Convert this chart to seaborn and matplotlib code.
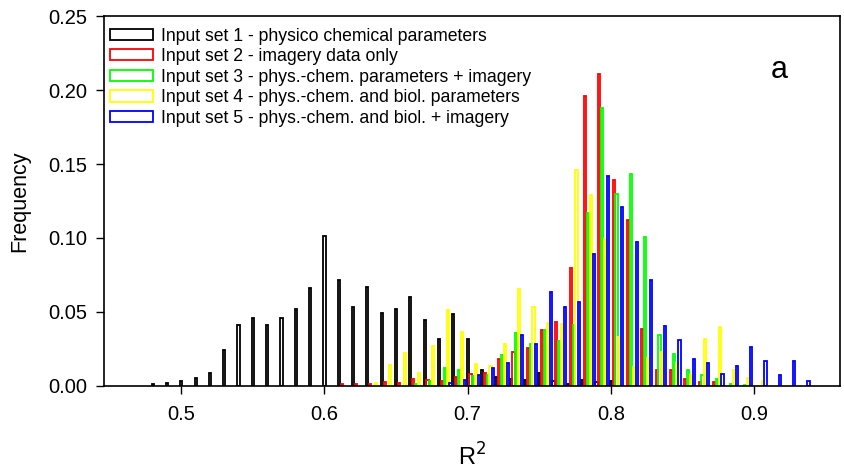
import matplotlib
matplotlib.use("Agg")
import matplotlib.pyplot as plt
import numpy as np
import pandas as pd
import seaborn as sns

# R2 bin values (left slot of each group) and frequencies per input set
bins_set1 = [0.48, 0.49, 0.50, 0.51, 0.52, 0.53, 0.54, 0.55, 0.56, 0.57, 0.58,
             0.59, 0.60, 0.61, 0.62, 0.63, 0.64, 0.65, 0.66, 0.67, 0.68, 0.69,
             0.70, 0.71, 0.72, 0.73, 0.74, 0.75, 0.76, 0.77, 0.78, 0.79, 0.80]
freq_set1 = [0.001, 0.002, 0.0035, 0.005, 0.0086, 0.0243, 0.0414, 0.046, 0.041,
             0.046, 0.052, 0.066, 0.1016, 0.0718, 0.0534, 0.067, 0.0495, 0.0518,
             0.060, 0.0447, 0.0314, 0.0486, 0.032, 0.011, 0.0063, 0.0047, 0.004,
             0.0086, 0.003, 0.0014, 0.004, 0.0024, 0.003]

bins_set2 = [0.61, 0.62, 0.63, 0.64, 0.65, 0.66, 0.67, 0.68, 0.69, 0.70, 0.71,
             0.72, 0.73, 0.74, 0.75, 0.76, 0.77, 0.78, 0.79, 0.80, 0.81, 0.82,
             0.83, 0.84, 0.85, 0.86, 0.87]
freq_set2 = [0.001, 0.0013, 0.001, 0.0025, 0.002, 0.0046, 0.0042, 0.003, 0.0057,
             0.008, 0.009, 0.018, 0.023, 0.0255, 0.0375, 0.0433, 0.080, 0.196,
             0.211, 0.139, 0.112, 0.0385, 0.0105, 0.0104, 0.0046, 0.0028, 0.0025]

bins_set3 = [0.66, 0.67, 0.68, 0.69, 0.70, 0.71, 0.72, 0.73, 0.74, 0.75, 0.76,
             0.77, 0.78, 0.79, 0.80, 0.81, 0.82, 0.83, 0.84, 0.85, 0.86, 0.87,
             0.88, 0.89]
freq_set3 = [0.0015, 0.003, 0.012, 0.011, 0.0068, 0.0071, 0.021, 0.036, 0.0285,
             0.038, 0.0305, 0.041, 0.117, 0.188, 0.130, 0.1435, 0.1005, 0.0346,
             0.0212, 0.0104, 0.0073, 0.0049, 0.0013, 0.0006]

bins_set4 = [0.63, 0.64, 0.65, 0.66, 0.67, 0.68, 0.69, 0.70, 0.71, 0.72, 0.73,
             0.74, 0.75, 0.76, 0.77, 0.78, 0.79, 0.80, 0.81, 0.82, 0.83, 0.84,
             0.85, 0.86, 0.87, 0.88, 0.89, 0.90]
freq_set4 = [0.0018, 0.0138, 0.0223, 0.0088, 0.0272, 0.0512, 0.0366, 0.0146,
             0.0137, 0.0283, 0.0653, 0.0532, 0.0422, 0.0418, 0.146, 0.129,
             0.0993, 0.0333, 0.0124, 0.0187, 0.0232, 0.0153, 0.0076, 0.032,
             0.0396, 0.0108, 0.0052, 0.003]

bins_set5 = [0.68, 0.69, 0.70, 0.71, 0.72, 0.73, 0.74, 0.75, 0.76, 0.77, 0.78,
             0.79, 0.80, 0.81, 0.82, 0.83, 0.84, 0.85, 0.86, 0.87, 0.88, 0.89,
             0.90, 0.91, 0.92, 0.93]
freq_set5 = [0.0016, 0.0042, 0.007, 0.012, 0.0153, 0.0346, 0.0283, 0.0632,
             0.0532, 0.057, 0.089, 0.142, 0.1207, 0.0975, 0.0718, 0.0403,
             0.0309, 0.018, 0.0157, 0.0083, 0.0137, 0.026, 0.0169, 0.0072,
             0.0167, 0.0036]

set_labels = [
    "Input set 1 - physico chemical parameters",
    "Input set 2 - imagery data only",
    "Input set 3 - phys.-chem. parameters + imagery",
    "Input set 4 - phys.-chem. and biol. parameters",
    "Input set 5 - phys.-chem. and biol. + imagery",
]
set_colors = ["#000000", "#ff0000", "#00ff00", "#ffff00", "#0000ff"]

all_bins = [bins_set1, bins_set2, bins_set3, bins_set4, bins_set5]
all_freq = [freq_set1, freq_set2, freq_set3, freq_set4, freq_set5]

frames = []
for lab, b, f in zip(set_labels, all_bins, all_freq):
    frames.append(pd.DataFrame({"r2": np.round(b, 2), "freq": f, "set": lab}))
df = pd.concat(frames, ignore_index=True)
# groups of five bars start at the bin value
df["xpos"] = df["r2"] + 0.004

sns.set_style("ticks", rc={"text.color": "black", "axes.labelcolor": "black",
                           "xtick.color": "black", "ytick.color": "black",
                           "axes.edgecolor": "black"})
plt.rcParams["font.family"] = ["Liberation Sans", "DejaVu Sans"]

fig = plt.figure(figsize=(8.45, 4.74), dpi=100)
ax = fig.add_axes([0.123, 0.186, 0.871, 0.78])

sns.barplot(
    data=df, x="xpos", y="freq", hue="set", hue_order=set_labels,
    palette=set_colors, native_scale=True, dodge=True, width=1, gap=0.25,
    fill=False, linewidth=1.3, errorbar=None, ax=ax,
)

ax.set_xlim(0.446, 0.96)
ax.set_ylim(0, 0.25)
ax.set_xticks([0.5, 0.6, 0.7, 0.8, 0.9])
ax.set_xticklabels(["0.5", "0.6", "0.7", "0.8", "0.9"])
ax.set_yticks([0, 0.05, 0.10, 0.15, 0.20, 0.25])
ax.set_yticklabels(["0.00", "0.05", "0.10", "0.15", "0.20", "0.25"])
ax.tick_params(direction="out", length=6, width=1, labelsize=14.5, colors="black")
ax.tick_params(axis="x", pad=8)
ax.tick_params(axis="y", pad=6)
for s in ax.spines.values():
    s.set_visible(True)
    s.set_linewidth(1.2)
    s.set_color("black")

ax.set_xlabel("R$^2$", fontsize=17, labelpad=14, color="black")
ax.set_ylabel("Frequency", fontsize=15.5, labelpad=13, color="black")

handles, labels = ax.get_legend_handles_labels()
ax.legend(
    handles, labels, loc="upper left", bbox_to_anchor=(-0.007, 1.0),
    frameon=False, fontsize=12.7, handlelength=2.4, handleheight=0.6,
    handletextpad=0.45, labelspacing=0.2, borderaxespad=0.25,
    labelcolor="black",
)

ax.text(0.918, 0.855, "a", transform=ax.transAxes, fontsize=22,
        ha="center", va="center", color="black")

fig.savefig("out.png", dpi=100)
